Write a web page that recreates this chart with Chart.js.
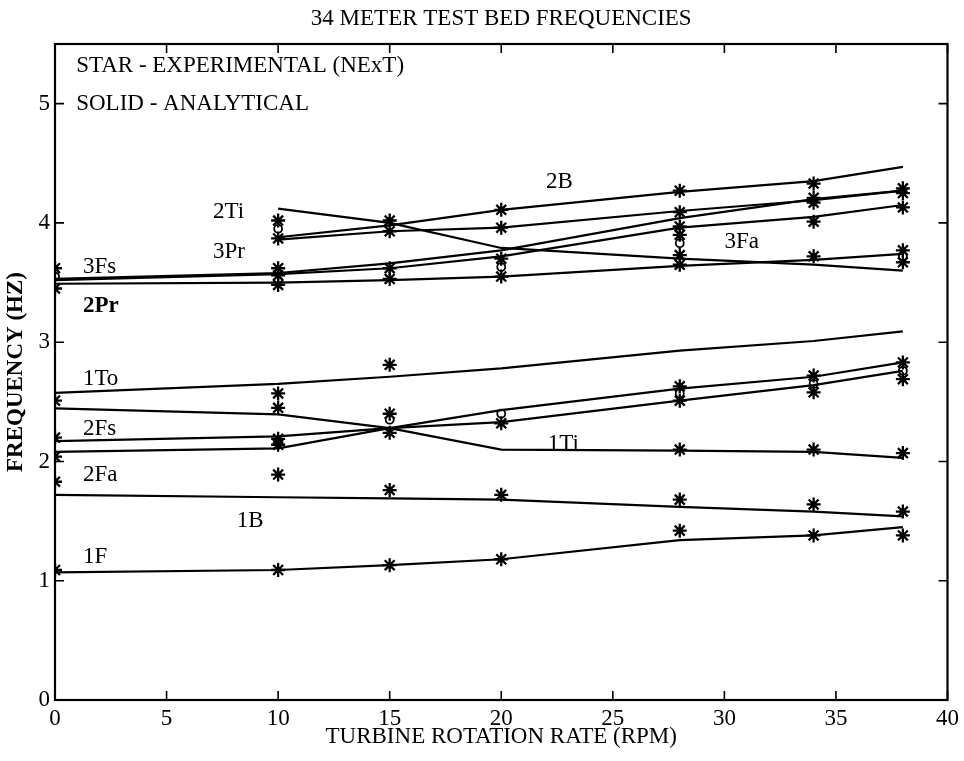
<!DOCTYPE html>
<html><head><meta charset="utf-8">
<script src="https://cdn.jsdelivr.net/npm/chart.js@4.4.1/dist/chart.umd.min.js"></script>
<style>html,body{margin:0;padding:0;background:#fff;}canvas{display:block;}</style>
</head><body>
<canvas id="c" width="964" height="761"></canvas>
<script>
// ---------- texts ----------
const chartTitle = '34 METER TEST BED FREQUENCIES';
const xAxisTitle = 'TURBINE ROTATION RATE (RPM)';
const yAxisTitle = 'FREQUENCY (HZ)';

// ---------- tick labels ----------
const xTickValues = [0, 5, 10, 15, 20, 25, 30, 35, 40];
const yTickValues = [0, 1, 2, 3, 4, 5];

// ---------- analytical curves (solid lines) ----------
const rpm = [0, 10, 15, 20, 28, 34, 38];
const mode1F  = [1.07, 1.09, 1.13, 1.18, 1.34, 1.38, 1.45];
const mode1B  = [1.72, 1.70, 1.69, 1.68, 1.62, 1.58, 1.54];
const mode2Fa = [2.08, 2.11, 2.28, 2.33, 2.51, 2.64, 2.76];
const mode2Fs = [2.17, 2.21, 2.28, 2.43, 2.61, 2.71, 2.83];
const mode1Ti = [2.445, 2.395, 2.28, 2.10, 2.09, 2.08, 2.03];
const mode1To = [2.575, 2.65, 2.71, 2.78, 2.93, 3.01, 3.09];
const mode2Pr = [3.49, 3.50, 3.52, 3.55, 3.64, 3.69, 3.74];
const mode3Fs = [3.52, 3.57, 3.62, 3.72, 3.96, 4.05, 4.15];
const mode3Pr = [3.53, 3.58, 3.66, 3.77, 4.04, 4.20, 4.27];
const mode3Fa = [null, 3.86, 3.93, 3.96, 4.10, 4.19, 4.27];
const mode2Ti = [null, 4.12, 4.00, 3.79, 3.70, 3.65, 3.60];
const mode2B  = [null, 3.88, 3.98, 4.11, 4.26, 4.35, 4.47];

// ---------- experimental (NExT) stars, per rotation rate ----------
const starsRpm0  = [1.09, 1.83, 2.04, 2.20, 2.51, 3.45, 3.62];
const starsRpm10 = [1.09, 1.89, 2.14, 2.19, 2.45, 2.57, 3.48, 3.56, 3.62, 3.87, 4.02];
const starsRpm15 = [1.13, 1.76, 2.24, 2.40, 2.81, 3.53, 3.62, 3.93, 4.02];
const starsRpm20 = [1.18, 1.72, 2.32, 3.55, 3.70, 3.96, 4.11];
const starsRpm28 = [1.42, 1.68, 2.10, 2.51, 2.63, 3.65, 3.73, 3.90, 3.97, 4.09, 4.27];
const starsRpm34 = [1.38, 1.64, 2.10, 2.58, 2.72, 3.72, 4.01, 4.17, 4.21, 4.33];
const starsRpm38 = [1.38, 1.58, 2.07, 2.69, 2.83, 3.67, 3.77, 4.13, 4.25, 4.29];

// ---------- small open circles ----------
const circleRpm  = [0, 10, 15, 20, 20, 28, 28, 34, 38, 38];
const circleFreq = [3.55, 3.95, 2.35, 2.40, 3.63, 2.57, 3.83, 2.65, 2.76, 3.72];

// ---------- in-plot labels (data coordinates) ----------
const noteText = ['STAR - EXPERIMENTAL (NExT)', 'SOLID - ANALYTICAL', '3Fs', '2Pr', '2Ti', '3Pr', '2B', '3Fa', '1To', '2Fs', '2Fa', '1B', '1F', '1Ti'];
const noteX    = [0.95, 0.95, 1.25, 1.25, 7.08, 7.08, 22.0, 30.0, 1.25, 1.25, 1.25, 8.15, 1.25, 22.08];
const noteY    = [5.32, 5.00, 3.63, 3.30, 4.09, 3.76, 4.34, 3.84, 2.69, 2.27, 1.89, 1.505, 1.20, 2.15];
const noteBold = [false, false, false, true, false, false, false, false, false, false, false, false, false, false];

// ================================================================
const FONT = "'Liberation Serif', 'Times New Roman', serif";
const BLACK = '#000';

const curves = [mode1F, mode1B, mode2Fa, mode2Fs, mode1Ti, mode1To, mode2Pr, mode3Fs, mode3Pr, mode3Fa, mode2Ti, mode2B];
const starGroups = [starsRpm0, starsRpm10, starsRpm15, starsRpm20, starsRpm28, starsRpm34, starsRpm38];

const datasets = curves.map(vals => ({
  type: 'line',
  data: rpm.map((x, i) => ({x: x, y: vals[i]})).filter(p => p.y !== null),
  borderColor: BLACK,
  borderWidth: 2.2,
  pointRadius: 0,
  tension: 0,
  fill: false
}));

const starPts = [];
starGroups.forEach((g, i) => g.forEach(v => starPts.push({x: rpm[i], y: v})));
datasets.push({
  type: 'scatter',
  data: starPts,
  pointStyle: 'star',
  pointRadius: 7,
  borderColor: BLACK,
  backgroundColor: BLACK,
  pointBorderWidth: 2.3,
  clip: 0
});
datasets.push({
  type: 'scatter',
  data: circleRpm.map((x, i) => ({x: x, y: circleFreq[i]})),
  pointStyle: 'circle',
  pointRadius: 4,
  borderColor: BLACK,
  backgroundColor: 'rgba(0,0,0,0)',
  pointBorderWidth: 1.8,
  clip: 0
});

const whiteBg = {
  id: 'whiteBg',
  beforeDraw(chart) {
    const c = chart.ctx;
    c.save(); c.fillStyle = '#fff'; c.fillRect(0, 0, chart.width, chart.height); c.restore();
  }
};

const frameTicks = {
  id: 'frameTicks',
  afterDatasetsDraw(chart) {
    const c = chart.ctx, a = chart.chartArea, xs = chart.scales.x, ys = chart.scales.y;
    const L = 9;
    c.save();
    c.strokeStyle = BLACK;
    c.lineWidth = 2.2;
    c.strokeRect(a.left, a.top, a.right - a.left, a.bottom - a.top);
    c.lineWidth = 1.6;
    c.beginPath();
    xTickValues.forEach(v => {
      const px = xs.getPixelForValue(v);
      c.moveTo(px, a.bottom); c.lineTo(px, a.bottom - L);
      c.moveTo(px, a.top); c.lineTo(px, a.top + L);
    });
    yTickValues.forEach(v => {
      const py = ys.getPixelForValue(v);
      c.moveTo(a.left, py); c.lineTo(a.left + L, py);
      c.moveTo(a.right, py); c.lineTo(a.right - L, py);
    });
    c.stroke();
    c.restore();
  }
};

const notes = {
  id: 'notes',
  afterDatasetsDraw(chart) {
    const c = chart.ctx, xs = chart.scales.x, ys = chart.scales.y;
    c.save();
    c.fillStyle = BLACK;
    c.textAlign = 'left';
    c.textBaseline = 'middle';
    noteText.forEach((t, i) => {
      c.font = (noteBold[i] ? 'bold ' : '') + '23px ' + FONT;
      c.fillText(t, xs.getPixelForValue(noteX[i]), ys.getPixelForValue(noteY[i]));
    });
    c.restore();
  }
};

const topTitle = {
  id: 'topTitle',
  afterDraw(chart) {
    const c = chart.ctx, a = chart.chartArea;
    c.save();
    c.fillStyle = BLACK;
    c.font = '23px ' + FONT;
    c.textAlign = 'center';
    c.textBaseline = 'middle';
    c.fillText(chartTitle, (a.left + a.right) / 2, 19);
    c.restore();
  }
};

Chart.defaults.font.family = FONT;
Chart.defaults.color = BLACK;

new Chart(document.getElementById('c'), {
  type: 'scatter',
  data: {datasets: datasets},
  options: {
    responsive: false,
    animation: false,
    events: [],
    layout: {padding: {top: 44, right: 16, left: 0, bottom: 0}},
    plugins: {legend: {display: false}, tooltip: {enabled: false}, title: {display: false}},
    scales: {
      x: {
        type: 'linear', min: 0, max: 40,
        grid: {display: false, drawTicks: false},
        border: {display: false},
        afterBuildTicks: s => { s.ticks = xTickValues.map(v => ({value: v})); },
        afterFit: s => { s.height = 61; },
        ticks: {font: {size: 23}, padding: 5, maxRotation: 0, autoSkip: false, color: BLACK},
        title: {display: true, text: xAxisTitle, font: {size: 23}, padding: {top: 0, bottom: 10}, color: BLACK}
      },
      y: {
        type: 'linear', min: 0, max: 5.5,
        grid: {display: false, drawTicks: false},
        border: {display: false},
        afterBuildTicks: s => { s.ticks = yTickValues.map(v => ({value: v})); },
        afterFit: s => { s.width = 55; },
        ticks: {font: {size: 23}, padding: 5, autoSkip: false, color: BLACK},
        title: {display: true, text: yAxisTitle, font: {size: 23, weight: 'bold'}, padding: {top: 2, bottom: 0}, color: BLACK}
      }
    }
  },
  plugins: [whiteBg, frameTicks, notes, topTitle]
});
</script>
</body></html>
